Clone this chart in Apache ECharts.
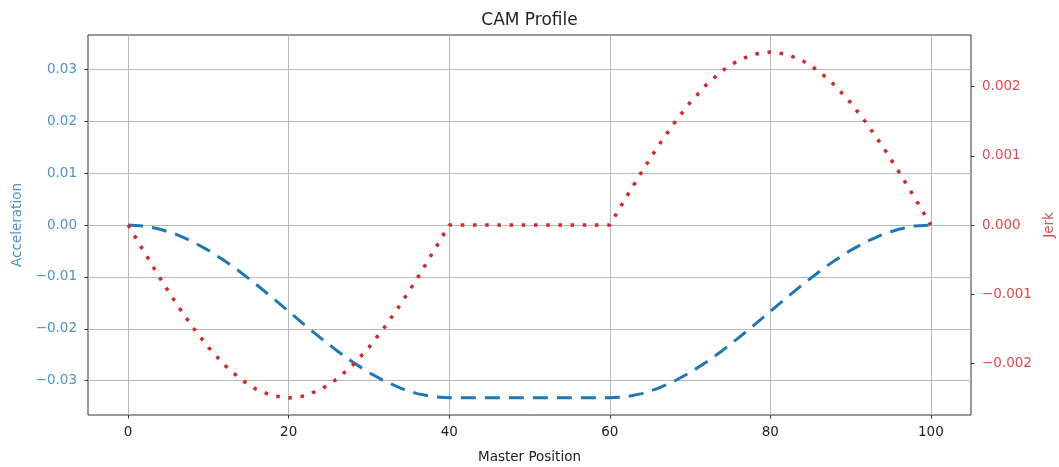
<!DOCTYPE html>
<html>
<head>
<meta charset="utf-8">
<script src="https://cdn.jsdelivr.net/npm/echarts@6/dist/echarts.min.js"></script>
<style>
html,body{margin:0;padding:0;background:#fff;}
#chart{width:1059px;height:467px;}
</style>
</head>
<body>
<div id="chart"></div>
<script>
const positions = [0,2,4,6,8,10,12,14,16,18,20,22,24,26,28,30,32,34,36,38,40,42,44,46,48,50,52,54,56,58,60,62,64,66,68,70,72,74,76,78,80,82,84,86,88,90,92,94,96,98,100];
const acceleration = [0,-0.000205,-0.000815,-0.001815,-0.003180,-0.004877,-0.006863,-0.009091,-0.011505,-0.014045,-0.01665,-0.019255,-0.021795,-0.024209,-0.026437,-0.028423,-0.030120,-0.031485,-0.032485,-0.033095,-0.0333,
-0.0333,-0.0333,-0.0333,-0.0333,-0.0333,-0.0333,-0.0333,-0.0333,-0.0333,
-0.0333,-0.033095,-0.032485,-0.031485,-0.030120,-0.028423,-0.026437,-0.024209,-0.021795,-0.019255,-0.01665,-0.014045,-0.011505,-0.009091,-0.006863,-0.004877,-0.003180,-0.001815,-0.000815,-0.000205,0];
const jerk = [0,-0.000391,-0.000773,-0.001135,-0.001469,-0.001768,-0.002023,-0.002228,-0.002378,-0.002469,-0.0025,-0.002469,-0.002378,-0.002228,-0.002023,-0.001768,-0.001469,-0.001135,-0.000773,-0.000391,0,
0,0,0,0,0,0,0,0,0,
0,0.000391,0.000773,0.001135,0.001469,0.001768,0.002023,0.002228,0.002378,0.002469,0.0025,0.002469,0.002378,0.002228,0.002023,0.001768,0.001469,0.001135,0.000773,0.000391,0];
const xTicks = [0,20,40,60,80,100];
const accTicks = [-0.03,-0.02,-0.01,0,0.01,0.02,0.03];
const jerkTicks = [-0.002,-0.001,0,0.001,0.002];

const FONT = 'DejaVu Sans';
const accColor = '#1f77b4';
const jerkColor = '#d62728';
const accText = '#4a93cf';
const jerkText = '#e3494b';
function fmt(v, d){ const s = Math.abs(v) < 1e-12 ? (0).toFixed(d) : v.toFixed(d); return s.replace('-', '\u2212'); }

const chart = echarts.init(document.getElementById('chart'), null, {renderer:'canvas'});
chart.setOption({
  animation:false,
  backgroundColor:'#fff',
  title:{text:'CAM Profile', left:'center', top:7, textStyle:{fontFamily:FONT, fontSize:17, fontWeight:'normal', color:'#222'}},
  grid:{left:88, right:88, top:35, bottom:52, show:true, borderColor:'#333', borderWidth:1, backgroundColor:'transparent', containLabel:false, outerBoundsMode:'none'},
  xAxis:{type:'value', min:-5, max:105,
    name:'Master Position', nameLocation:'middle', nameGap:35,
    nameTextStyle:{fontFamily:FONT, fontSize:13.5, color:'#222'},
    axisLine:{show:false, onZero:false},
    axisTick:{show:true, length:3.5, inside:false, customValues:xTicks, lineStyle:{color:'#333'}},
    axisLabel:{customValues:xTicks, margin:10, fontFamily:FONT, fontSize:13.5, color:'#222', formatter:v=>String(Math.round(v))},
    splitLine:{show:true, lineStyle:{color:'#b8b8b8', width:1}}
  },
  yAxis:[
    {type:'value', position:'left', min:-0.0366, max:0.0366,
     name:'Acceleration', nameLocation:'middle', nameGap:64, nameRotate:90,
     nameTextStyle:{fontFamily:FONT, fontSize:13.5, color:accText},
     axisLine:{show:false, onZero:false},
     axisTick:{show:true, length:3.5, customValues:accTicks, lineStyle:{color:'#333'}},
     axisLabel:{customValues:accTicks, margin:11, fontFamily:FONT, fontSize:13.5, color:accText, formatter:v=>fmt(v,2)},
     splitLine:{show:true, lineStyle:{color:'#b8b8b8', width:1}}
    },
    {type:'value', position:'right', min:-0.002746, max:0.002746,
     name:'Jerk', nameLocation:'middle', nameGap:70, nameRotate:90,
     nameTextStyle:{fontFamily:FONT, fontSize:13.5, color:jerkText},
     axisLine:{show:false, onZero:false},
     axisTick:{show:true, length:3.5, customValues:jerkTicks, lineStyle:{color:'#333'}},
     axisLabel:{customValues:jerkTicks, margin:11, fontFamily:FONT, fontSize:13.5, color:jerkText, formatter:v=>fmt(v,3)},
     splitLine:{show:false}
    }
  ],
  series:[
    {type:'line', name:'Acceleration', yAxisIndex:0, showSymbol:false, symbol:'none',
     data:positions.map((x,i)=>[x, acceleration[i]]),
     lineStyle:{color:accColor, width:3, type:[15,9], cap:'butt'}, z:2},
    {type:'line', name:'Jerk', yAxisIndex:1, showSymbol:false, symbol:'none',
     data:positions.map((x,i)=>[x, jerk[i]]),
     lineStyle:{color:jerkColor, width:3.5, type:[3.5,8.7], cap:'butt'}, z:3}
  ]
});
</script>
</body>
</html>
